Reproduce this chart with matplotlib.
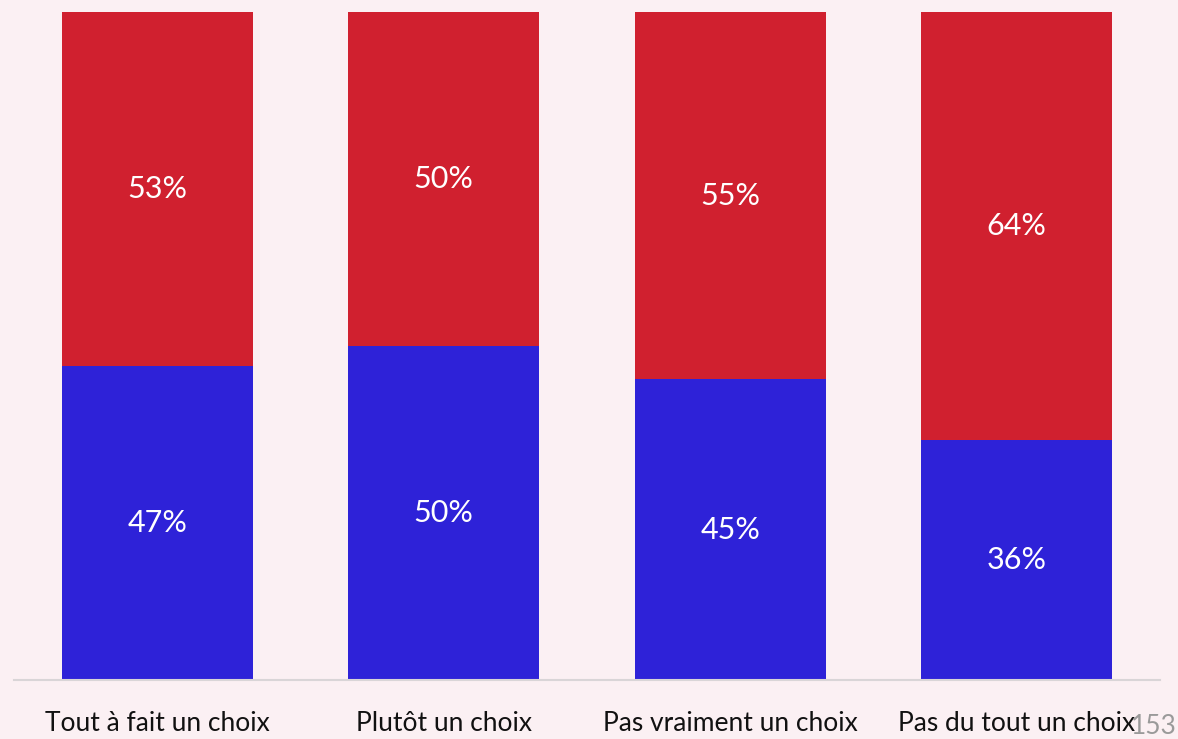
import matplotlib.pyplot as plt

categories = ["Tout à fait un choix", "Plutôt un choix", "Pas vraiment un choix", "Pas du tout un choix"]
blue_vals = [47, 50, 45, 36]
red_vals = [53, 50, 55, 64]
page_number = "153"

bg = "#FBF0F3"
blue = "#2E22D8"
red = "#D0202F"

plt.rcParams['font.family'] = ['Lato', 'DejaVu Sans']

fig = plt.figure(figsize=(11.78, 7.39), dpi=100, facecolor=bg)
ax = fig.add_axes([14 / 1178, 59 / 739, 1146 / 1178, 668 / 739])
ax.set_facecolor(bg)

x = range(len(categories))
ax.bar(x, blue_vals, width=0.667, color=blue)
ax.bar(x, red_vals, width=0.667, bottom=blue_vals, color=red)

# percentage labels centred in each segment
for i in x:
    ax.text(i, blue_vals[i] / 2, f"{blue_vals[i]}%", ha='center', va='center',
            color='white', fontsize=22)
    ax.text(i, blue_vals[i] + red_vals[i] / 2, f"{red_vals[i]}%", ha='center', va='center',
            color='white', fontsize=22)

ax.set_xlim(-0.5, 3.5)
ax.set_ylim(0, 100)
for s in ['top', 'right', 'left']:
    ax.spines[s].set_visible(False)
ax.spines['bottom'].set_color('#D9D5D7')
ax.spines['bottom'].set_linewidth(1.5)
ax.set_yticks([])
ax.set_xticks(list(x))
ax.set_xticklabels(categories, fontsize=19, color='#111111')
ax.tick_params(axis='x', length=0, pad=22)

# page number in the bottom-right corner
fig.text(1177 / 1178, 13 / 739, page_number, fontsize=19, color='#9A9A9A', ha='right', va='center')

fig.savefig("out.png", dpi=100, facecolor=bg)
